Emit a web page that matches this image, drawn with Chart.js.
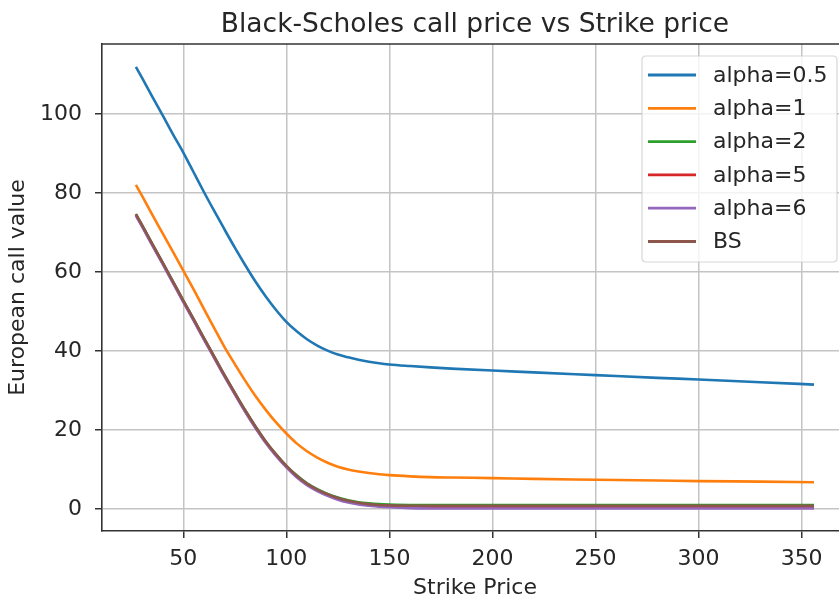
<!DOCTYPE html>
<html>
<head>
<meta charset="utf-8">
<title>Black-Scholes call price vs Strike price</title>
<script src="https://cdn.jsdelivr.net/npm/chart.js@4.4.0/dist/chart.umd.min.js"></script>
<style>
  html, body { margin: 0; padding: 0; background: #fff; overflow: hidden; }
  #wrap { width: 850px; height: 598px; }
</style>
</head>
<body>
<div id="wrap"><canvas id="chart" width="850" height="598"></canvas></div>
<script>
// strike grid and call values
const strikes = [27, 30, 35, 40, 45, 50, 55, 60, 65, 70, 75, 80, 85, 90, 95, 100, 105, 110, 115, 120,
                 125, 130, 135, 140, 145, 150, 160, 170, 180, 200, 220, 250, 280, 300, 330, 356];

const alpha05 = [112.0, 109.2, 104.4, 99.7, 94.9, 90.3, 85.3, 80.3, 75.5, 70.8, 66.2, 61.8, 57.6, 53.8, 50.4, 47.4, 45.0, 43.0, 41.4, 40.1,
                 39.1, 38.4, 37.8, 37.3, 36.9, 36.6, 36.2, 35.85, 35.55, 35.05, 34.6, 33.9, 33.2, 32.8, 32.1, 31.5];
const alpha1 = [82.1, 79.3, 74.5, 69.8, 65.1, 60.4, 55.6, 50.7, 45.8, 41.0, 36.7, 32.5, 28.6, 25.1, 21.9, 19.1, 16.6, 14.6, 13.0, 11.7,
                10.7, 10.0, 9.5, 9.1, 8.8, 8.55, 8.25, 8.05, 7.95, 7.8, 7.6, 7.4, 7.2, 7.05, 6.9, 6.75];
const alpha2 = [74.7, 71.9, 67.1, 62.4, 57.6, 52.8, 48.1, 43.3, 38.6, 33.9, 29.4, 25.0, 20.9, 17.1, 13.8, 10.9, 8.5, 6.5, 5.0, 3.8,
                2.9, 2.2, 1.7, 1.4, 1.2, 1.1, 1.0, 1.0, 1.0, 0.95, 0.95, 0.95, 0.95, 0.95, 0.95, 0.95];
const alpha5 = [74.5, 71.7, 66.9, 62.2, 57.4, 52.6, 47.9, 43.1, 38.4, 33.7, 29.2, 24.8, 20.7, 16.9, 13.6, 10.7, 8.2, 6.2, 4.7, 3.5,
                2.5, 1.8, 1.3, 1.0, 0.75, 0.6, 0.45, 0.4, 0.35, 0.3, 0.3, 0.3, 0.3, 0.3, 0.3, 0.3];
const alpha6 = [74.3, 71.5, 66.7, 62.0, 57.2, 52.4, 47.7, 42.9, 38.2, 33.5, 29.0, 24.6, 20.5, 16.7, 13.4, 10.5, 8.0, 6.0, 4.5, 3.3,
                2.3, 1.6, 1.1, 0.8, 0.55, 0.4, 0.2, 0.12, 0.1, 0.1, 0.1, 0.1, 0.1, 0.1, 0.1, 0.1];
const bsPrice = [74.7, 71.9, 67.1, 62.4, 57.6, 52.8, 48.1, 43.3, 38.6, 33.9, 29.4, 25.0, 20.9, 17.1, 13.8, 10.9, 8.4, 6.4, 4.9, 3.7,
                 2.75, 2.05, 1.55, 1.2, 1.0, 0.9, 0.8, 0.8, 0.8, 0.8, 0.8, 0.8, 0.8, 0.8, 0.8, 0.8];

const seriesLabels = ['alpha=0.5', 'alpha=1', 'alpha=2', 'alpha=5', 'alpha=6', 'BS'];
const seriesValues = [alpha05, alpha1, alpha2, alpha5, alpha6, bsPrice];
const seriesColors = ['#1f77b4', '#ff7f0e', '#2ca02c', '#d62728', '#9467bd', '#8c564b'];

const xTicks = [50, 100, 150, 200, 250, 300, 350];
const yTicks = [0, 20, 40, 60, 80, 100];

const FONT = 'DejaVu Sans';
const TEXT = '#262626';
const SPINE = '#333333';
const GRID = '#c4c4c4';

// top spine, title and the boxed legend, drawn the matplotlib way
const decorations = {
    id: 'decorations',
    afterDraw(chart) {
        const ctx = chart.ctx;
        const area = chart.chartArea;
        ctx.save();

        // top spine
        ctx.strokeStyle = SPINE;
        ctx.lineWidth = 1.6;
        ctx.beginPath();
        ctx.moveTo(area.left - 0.8, area.top);
        ctx.lineTo(area.right, area.top);
        ctx.stroke();

        // title centred over the axes
        ctx.fillStyle = TEXT;
        ctx.font = '26.5px "' + FONT + '"';
        ctx.textAlign = 'center';
        ctx.textBaseline = 'alphabetic';
        ctx.fillText('Black-Scholes call price vs Strike price', (area.left + area.right) / 2, 32);

        // legend
        const bx = 642, by = 56, bw = 195, bh = 206, r = 4;
        ctx.beginPath();
        ctx.moveTo(bx + r, by);
        ctx.lineTo(bx + bw - r, by);
        ctx.quadraticCurveTo(bx + bw, by, bx + bw, by + r);
        ctx.lineTo(bx + bw, by + bh - r);
        ctx.quadraticCurveTo(bx + bw, by + bh, bx + bw - r, by + bh);
        ctx.lineTo(bx + r, by + bh);
        ctx.quadraticCurveTo(bx, by + bh, bx, by + bh - r);
        ctx.lineTo(bx, by + r);
        ctx.quadraticCurveTo(bx, by, bx + r, by);
        ctx.closePath();
        ctx.fillStyle = 'rgba(255,255,255,0.8)';
        ctx.fill();
        ctx.strokeStyle = 'rgba(204,204,204,0.8)';
        ctx.lineWidth = 1.2;
        ctx.stroke();

        ctx.font = '22px "' + FONT + '"';
        ctx.textAlign = 'left';
        ctx.textBaseline = 'middle';
        chart.data.datasets.forEach((ds, i) => {
            const y = 75 + i * 33.3;
            ctx.strokeStyle = ds.borderColor;
            ctx.lineWidth = 2.8;
            ctx.beginPath();
            ctx.moveTo(648, y);
            ctx.lineTo(696, y);
            ctx.stroke();
            ctx.fillStyle = TEXT;
            ctx.fillText(ds.label, 713, y + 1);
        });
        ctx.restore();
    }
};

const datasets = seriesLabels.map((label, i) => ({
    label: label,
    data: strikes.map((k, j) => ({ x: k, y: seriesValues[i][j] })),
    borderColor: seriesColors[i],
    borderWidth: 2.6,
    pointRadius: 0,
    fill: false,
    cubicInterpolationMode: 'monotone',
    order: seriesLabels.length - i   // later series on top, like matplotlib
}));

new Chart(document.getElementById('chart'), {
    type: 'line',
    data: { datasets: datasets },
    options: {
        responsive: false,
        animation: false,
        devicePixelRatio: 1,
        layout: { padding: { left: 0, right: 2, top: 44, bottom: 0 } },
        plugins: {
            legend: { display: false },
            title: { display: false },
            tooltip: { enabled: false }
        },
        scales: {
            x: {
                type: 'linear',
                min: 10.55,
                max: 372.5,
                afterBuildTicks: scale => { scale.ticks = xTicks.map(v => ({ value: v })); },
                afterFit: scale => { scale.height = 67; },
                grid: { color: GRID, lineWidth: 1.5, tickColor: SPINE, tickLength: 7, tickWidth: 1.5 },
                border: { color: SPINE, width: 1.6 },
                ticks: { color: TEXT, font: { family: FONT, size: 22 }, padding: 8, maxRotation: 0 },
                title: {
                    display: true, text: 'Strike Price', color: TEXT,
                    font: { family: FONT, size: 22, lineHeight: 1 }, padding: { top: 0, bottom: -1 }
                }
            },
            y: {
                type: 'linear',
                min: -5.6,
                max: 117.8,
                afterBuildTicks: scale => { scale.ticks = yTicks.map(v => ({ value: v })); },
                afterFit: scale => { scale.width = 102; },
                grid: { color: GRID, lineWidth: 1.5, tickColor: SPINE, tickLength: 7, tickWidth: 1.5 },
                border: { color: SPINE, width: 1.6 },
                ticks: { color: TEXT, font: { family: FONT, size: 22 }, padding: 13 },
                title: {
                    display: true, text: 'European call value', color: TEXT,
                    font: { family: FONT, size: 22, lineHeight: 1 }, padding: { top: 7, bottom: 0 }
                }
            }
        }
    },
    plugins: [decorations]
});
</script>
</body>
</html>
